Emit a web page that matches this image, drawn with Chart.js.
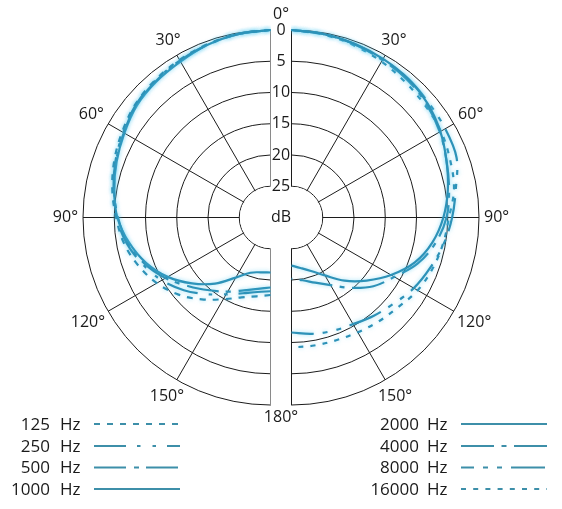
<!DOCTYPE html>
<html>
<head>
<meta charset="utf-8">
<script src="https://cdn.jsdelivr.net/npm/chart.js@4.4.1/dist/chart.umd.min.js"></script>
<style>
  html, body { margin: 0; padding: 0; background: #fff; }
  #wrap { width: 562px; height: 509px; position: relative; }
</style>
</head>
<body>
<div id="wrap"><canvas id="polar"></canvas></div>
<script>
// angle from the front of the mic (0°) to the back (180°)
const angles = [0, 10, 20, 30, 40, 50, 60, 70, 80, 90, 100, 110, 120, 130, 140, 150, 160, 170, 180];
const angleTicks = ['0°', '30°', '60°', '90°', '120°', '150°', '180°'];

// left half of the diagram: low frequencies (attenuation, dB)
const hz125  = [0, 0.2, 0.5, 0.9, 1.3, 1.8, 2.6, 3.4, 4.3, 5.3, 6.2, 7.5, 9.0, 10.8, 12.9, 14.9, 16.4, 17.2, 17.6];
const hz250  = [0, 0.2, 0.6, 1.0, 1.4, 1.9, 2.8, 3.6, 4.5, 5.4, 6.6, 8.2, 9.9, 11.9, 14.0, 15.8, 17.1, 17.9, 18.2];
const hz500  = [0, 0.2, 0.6, 1.1, 1.5, 2.0, 2.9, 3.7, 4.6, 5.6, 6.8, 8.5, 10.6, 12.9, 14.8, 16.3, 17.6, 18.4, 18.8];
const hz1000 = [0, 0.2, 0.6, 1.2, 1.6, 2.1, 3.0, 3.8, 4.6, 5.5, 7.0, 8.8, 11.0, 13.6, 16.2, 18.9, 20.6, 21.1, 21.2];

// right half: high frequencies
const hz2000  = [0, 0.2, 0.4, 0.7, 1.0, 1.6, 2.5, 3.6, 4.6, 5.7, 7.1, 9.0, 11.6, 14.3, 16.8, 19.3, 20.9, 21.8, 22.3];
const hz4000  = [0, 0.2, 0.5, 0.9, 1.2, 1.8, 2.6, 3.6, 4.4, 5.2, 6.6, 8.5, 11.0, 12.9, 15.3, 17.5, 18.9, 19.8, 20.2];
const hz8000  = [0, 0.2, 0.5, 0.8, 1.0, 1.4, 1.6, 1.9, 3.3, 4.3, 5.3, 6.4, 7.4, 8.6, 9.5, 10.3, 10.7, 11.1, 11.6];
const hz16000 = [0, 0.3, 0.7, 1.2, 1.7, 2.1, 2.4, 3.0, 3.6, 4.8, 5.4, 6.0, 6.7, 7.7, 8.3, 8.8, 9.1, 9.2, 9.2];

// full turn for the radar: 0..180 then 190..350
const radarLabels = angles.concat(angles.slice(1, -1).map(a => 360 - a).reverse());
const n = radarLabels.length;

const rightSide = (values) => {
  const out = new Array(n).fill(null);
  values.forEach((v, k) => { out[radarLabels.indexOf(angles[k])] = v; });
  return out;
};
const leftSide = (values) => {
  const out = new Array(n).fill(null);
  values.forEach((v, k) => { out[radarLabels.indexOf((360 - angles[k]) % 360)] = v; });
  return out;
};

const blue = '#2d92b8';
const line = (label, values, axis, dash, offset) => ({
  label: label,
  data: axis === 'rLeft' ? leftSide(values) : rightSide(values),
  rAxisID: axis,
  borderColor: blue,
  borderWidth: 2.2,
  borderDash: dash,
  borderDashOffset: offset || 0,
  fill: false,
  pointRadius: 0,
  tension: 0.35
});

const datasets = [
  line('125 Hz', hz125, 'rLeft', [6, 7]),
  line('250 Hz', hz250, 'rLeft', [32, 11, 3.5, 12, 3.5, 11]),
  line('500 Hz', hz500, 'rLeft', [32, 8, 5, 7]),
  line('1000 Hz', hz1000, 'rLeft', []),
  line('2000 Hz', hz2000, 'rRight', []),
  line('4000 Hz', hz4000, 'rRight', [33, 7.5, 5, 7.5]),
  line('8000 Hz', hz8000, 'rRight', [34, 9, 5, 9, 5, 9], 21),
  line('16000 Hz', hz16000, 'rRight', [5, 7.2])
];

// each half of the diagram has its own centre, the slot sits between them
function clipHalf(scale, side) {
  if (scale.$clipped) return;
  scale.$clipped = true;
  const drawGrid = scale.drawGrid;
  scale.drawGrid = function (area) {
    const ctx = this.ctx;
    ctx.save();
    ctx.beginPath();
    if (side === 'left') ctx.rect(0, 0, this.xCenter + 0.5, this.chart.height);
    else ctx.rect(this.xCenter - 0.5, 0, this.chart.width, this.chart.height);
    ctx.clip();
    drawGrid.call(this, area);
    ctx.beginPath();
    ctx.arc(this.xCenter, this.yCenter, this.getDistanceFromCenterForValue(25) - 0.6, 0, Math.PI * 2);
    ctx.fillStyle = '#fff';
    ctx.fill();
    ctx.restore();
  };
}

const place = (x, side) => (s) => {
  s.xCenter = x;
  s.yCenter = 217.5;
  s.drawingArea = 187.5;
  if (side) clipHalf(s, side);
};

const halfScale = (x, side) => ({
  type: 'radialLinear',
  axis: 'r',
  min: 0,
  max: 30,
  reverse: true,
  ticks: { stepSize: 5, display: false },
  pointLabels: { display: false },
  grid: { circular: true, color: '#1c1c1c', lineWidth: 1 },
  angleLines: {
    lineWidth: 1,
    color: (c) => {
      const a = radarLabels[c.index];
      if (a % 30 !== 0) return 'rgba(0,0,0,0)';
      if (side === 'left' && (a === 0 || a === 180)) return '#8a8a8a';
      return '#1c1c1c';
    }
  },
  afterFit: place(x, side)
});

const textColor = '#1a1a1a';

const drawExtras = {
  id: 'drawExtras',
  beforeDatasetsDraw(chart) {
    // soft halo round the curves, as in the printed diagram
    const ctx = chart.ctx;
    ctx.save();
    ctx.shadowColor = 'rgba(80, 200, 240, 0.55)';
    ctx.shadowBlur = 4;
  },
  afterDatasetsDraw(chart) {
    const ctx = chart.ctx;
    ctx.restore();
    const t = chart.scales.rTicks;
    ctx.save();
    ctx.fillStyle = '#fff';
    ctx.fillRect(271, 0, 20, 412);
    ctx.fillStyle = textColor;
    ctx.font = '16px "Open Sans"';
    ctx.textAlign = 'center';
    ctx.textBaseline = 'middle';
    ctx.fillText('dB', t.xCenter, t.yCenter);
    ctx.restore();
  },
  afterDraw(chart) {
    const ctx = chart.ctx;
    const L = chart.scales.rLeft, R = chart.scales.rRight, T = chart.scales.rTicks;
    ctx.save();
    ctx.fillStyle = textColor;
    ctx.font = '16px "Open Sans"';
    ctx.textAlign = 'center';
    ctx.textBaseline = 'middle';
    angleTicks.forEach((text, k) => {
      const a = k * 30;
      const places = (a === 0 || a === 180) ? [[T, a]] : [[R, a], [L, 360 - a]];
      places.forEach(([scale, deg]) => {
        const idx = radarLabels.indexOf(deg);
        const w = ctx.measureText(text).width, h = 14;
        const rad = deg * Math.PI / 180;
        const pad = a === 0 ? 9 : 5;
        const dist = scale.drawingArea + pad + w / 2 * Math.abs(Math.sin(rad)) + h / 2 * Math.abs(Math.cos(rad));
        const p = scale.getPointPosition(idx, dist);
        ctx.fillText(text, p.x, p.y);
      });
    });

    // legend: text on the left, line sample on the right
    const cols = [
      { numX: 50, hzX: 60, x1: 94, x2: 180 },
      { numX: 419, hzX: 427, x1: 461, x2: 547 }
    ];
    const rowsY = [425, 447, 468.5, 490];
    ctx.font = '17px "Open Sans"';
    chart.data.datasets.forEach((ds, i) => {
      const col = cols[i < 4 ? 0 : 1];
      const y = rowsY[i % 4];
      const parts = ds.label.split(' ');
      ctx.fillStyle = textColor;
      ctx.textAlign = 'right';
      ctx.fillText(parts[0], col.numX, y);
      ctx.textAlign = 'left';
      ctx.fillText(parts[1], col.hzX, y);
      ctx.beginPath();
      ctx.setLineDash(ds.borderDash);
      ctx.lineDashOffset = ds.borderDashOffset || 0;
      ctx.lineWidth = 2;
      ctx.strokeStyle = '#3d8fa9';
      ctx.moveTo(col.x1, y - 1);
      ctx.lineTo(col.x2, y - 1);
      ctx.stroke();
    });
    ctx.restore();
  }
};

const config = {
  type: 'radar',
  data: { labels: radarLabels, datasets: datasets },
  options: {
    responsive: true,
    maintainAspectRatio: false,
    animation: false,
    layout: { padding: 0 },
    plugins: { legend: { display: false }, tooltip: { enabled: false } },
    scales: {
      rLeft: halfScale(270.5, 'left'),
      rRight: halfScale(291.5, 'right'),
      rTicks: {
        type: 'radialLinear',
        axis: 'r',
        min: 0,
        max: 30,
        reverse: true,
        grid: { display: false },
        angleLines: { display: false },
        pointLabels: { display: false },
        ticks: {
          stepSize: 5,
          z: 1,
          showLabelBackdrop: false,
          color: textColor,
          font: { family: 'Open Sans', size: 16 },
          callback: (v) => v === 30 ? '' : v
        },
        afterFit: place(281, null)
      }
    }
  },
  plugins: [drawExtras]
};

const polarChart = new Chart(document.getElementById('polar'), config);
</script>
</body>
</html>
